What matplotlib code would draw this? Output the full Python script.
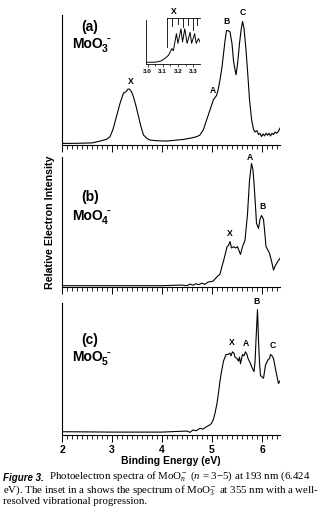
"""
MoOn- photoelectron spectra (n = 3-5) at 193 nm, with 355 nm inset for MoO3-.
Output: out.png
"""
import numpy as np
import matplotlib
matplotlib.use('Agg')
import matplotlib.pyplot as plt
from matplotlib.ticker import MultipleLocator

matplotlib.rcParams['font.family'] = 'Liberation Sans'
matplotlib.rcParams['mathtext.fontset'] = 'custom'
matplotlib.rcParams['mathtext.rm'] = 'Liberation Serif'
matplotlib.rcParams['mathtext.it'] = 'Liberation Serif:italic'
matplotlib.rcParams['mathtext.bf'] = 'Liberation Sans:bold'

# === Data (intensity in arbitrary units, 0-1 of panel height) ===
# (a) MoO3- at 193 nm
e_a = [2.00, 2.30, 2.60, 2.76, 2.90, 2.96, 3.02, 3.09, 3.16, 3.23, 3.28, 3.32, 3.35,
       3.39, 3.43, 3.48, 3.53, 3.58, 3.63, 3.70, 3.76, 3.90, 4.09, 4.25, 4.43, 4.60,
       4.70, 4.76, 4.83, 4.89, 4.96, 5.03, 5.09, 5.12, 5.16, 5.20, 5.23, 5.26, 5.29,
       5.32, 5.36, 5.40, 5.43, 5.46, 5.48, 5.51, 5.55, 5.58, 5.61, 5.64, 5.68, 5.72,
       5.75, 5.79, 5.83, 5.86, 5.90, 5.93, 5.96, 5.99, 6.02, 6.05, 6.08, 6.11, 6.14,
       6.17, 6.20, 6.23, 6.26, 6.29, 6.32, 6.36]
i_a = [0.012, 0.013, 0.016, 0.030, 0.045, 0.064, 0.12, 0.22, 0.32, 0.40, 0.41, 0.43,
       0.43, 0.41, 0.37, 0.30, 0.22, 0.14, 0.077, 0.05, 0.038, 0.033, 0.030, 0.036,
       0.043, 0.055, 0.065, 0.077, 0.12, 0.19, 0.27, 0.35, 0.38, 0.42, 0.50, 0.60,
       0.70, 0.80, 0.88, 0.88, 0.87, 0.78, 0.65, 0.58, 0.54, 0.62, 0.78, 0.88, 0.95,
       0.90, 0.73, 0.52, 0.35, 0.20, 0.12, 0.10, 0.11, 0.08, 0.09, 0.065, 0.085, 0.07,
       0.09, 0.075, 0.09, 0.07, 0.09, 0.08, 0.10, 0.09, 0.10, 0.13]

# (b) MoO4-
e_b = [2.00, 3.00, 4.00, 4.40, 4.50, 4.56, 4.62, 4.68, 4.74, 4.80, 4.86, 4.92, 4.96,
       5.02, 5.08, 5.12, 5.16, 5.20, 5.23, 5.27, 5.30, 5.33, 5.36, 5.39, 5.43, 5.47,
       5.51, 5.54, 5.57, 5.61, 5.66, 5.71, 5.75, 5.79, 5.82, 5.84, 5.87, 5.89, 5.93,
       5.96, 5.99, 6.03, 6.06, 6.08, 6.11, 6.15, 6.19, 6.23, 6.26, 6.29, 6.32, 6.36]
i_b = [0.010, 0.010, 0.010, 0.015, 0.010, 0.022, 0.014, 0.025, 0.018, 0.030, 0.020,
       0.038, 0.040, 0.045, 0.070, 0.085, 0.10, 0.16, 0.20, 0.26, 0.31, 0.32, 0.35,
       0.30, 0.31, 0.30, 0.31, 0.28, 0.25, 0.31, 0.36, 0.56, 0.82, 0.95, 0.90, 0.80,
       0.62, 0.49, 0.45, 0.52, 0.55, 0.52, 0.40, 0.31, 0.29, 0.26, 0.20, 0.13, 0.16,
       0.18, 0.20, 0.22]

# (c) MoO5-
e_c = [2.00, 3.00, 4.00, 4.50, 4.56, 4.62, 4.68, 4.76, 4.82, 4.89, 4.95, 4.99, 5.03,
       5.06, 5.10, 5.13, 5.16, 5.19, 5.23, 5.28, 5.32, 5.36, 5.38, 5.41, 5.44, 5.46,
       5.50, 5.53, 5.55, 5.57, 5.61, 5.64, 5.67, 5.70, 5.72, 5.76, 5.79, 5.84, 5.86,
       5.88, 5.91, 5.93, 5.95, 5.97, 6.00, 6.03, 6.07, 6.12, 6.15, 6.17, 6.20, 6.23,
       6.28, 6.33, 6.36]
i_c = [0.025, 0.022, 0.022, 0.030, 0.020, 0.038, 0.032, 0.050, 0.045, 0.063, 0.075,
       0.088, 0.12, 0.165, 0.24, 0.32, 0.41, 0.48, 0.56, 0.61, 0.61, 0.62, 0.60, 0.63,
       0.62, 0.59, 0.58, 0.56, 0.59, 0.54, 0.61, 0.60, 0.63, 0.61, 0.58, 0.55, 0.52,
       0.48, 0.55, 0.72, 0.95, 0.72, 0.55, 0.45, 0.44, 0.43, 0.53, 0.57, 0.58, 0.61,
       0.60, 0.58, 0.48, 0.39, 0.41]

# inset: MoO3- at 355 nm
e_in = [2.99, 3.00, 3.05, 3.09, 3.116, 3.138, 3.15, 3.16, 3.17, 3.18, 3.19, 3.20,
        3.22, 3.23, 3.245, 3.26, 3.28, 3.29, 3.31, 3.32, 3.335, 3.345]
i_in = [0.04, 0.04, 0.04, 0.07, 0.13, 0.20, 0.28, 0.35, 0.30, 0.50, 0.69, 0.47,
        0.80, 0.50, 0.80, 0.47, 0.72, 0.47, 0.69, 0.47, 0.58, 0.50]
comb_pos = [3.127, 3.163, 3.198, 3.231, 3.263, 3.296, 3.326]
comb_bottom = [0.39, 0.86, 0.90, 0.84, 0.88, 0.78, 0.88]

# panel labels / peak labels
n_oxy = ['3', '4', '5']
tags = ['(a)', '(b)', '(c)']
tag_y = [0.91, 0.69, 0.72]
sp_y = [0.78, 0.55, 0.59]
peaks_a = [('X', 3.37, 0.49), ('A', 5.02, 0.42), ('B', 5.29, 0.95), ('C', 5.62, 1.02)]
peaks_b = [('X', 5.36, 0.41), ('A', 5.76, 1.00), ('B', 6.02, 0.62)]
peaks_c = [('X', 5.40, 0.70), ('A', 5.67, 0.69), ('B', 5.90, 1.01), ('C', 6.21, 0.68)]

# === Figure ===
fig = plt.figure(figsize=(3.32, 5.22), dpi=100)
W, H = 332.0, 522.0

def px_axes(x0, y0, x1, y1):
    return fig.add_axes([x0 / W, 1 - y1 / H, (x1 - x0) / W, (y1 - y0) / H])

ax_a = px_axes(62, 15, 280, 145)
ax_b = px_axes(62, 157, 280, 287)
ax_c = px_axes(62, 303, 280, 435)

for k, (ax, e, i, peaks) in enumerate(zip([ax_a, ax_b, ax_c], [e_a, e_b, e_c], [i_a, i_b, i_c],
                                          [peaks_a, peaks_b, peaks_c])):
    ax.plot(e, i, color='black', lw=0.8)
    ax.set_xlim(2.0, 6.36)
    ax.set_ylim(0, 1)
    for s in ['top', 'right']:
        ax.spines[s].set_visible(False)
    ax.spines['left'].set_linewidth(0.8)
    ax.spines['bottom'].set_linewidth(0.8)
    ax.set_yticks([])
    ax.xaxis.set_major_locator(MultipleLocator(1))
    ax.xaxis.set_minor_locator(MultipleLocator(0.1))
    ax.tick_params(axis='x', which='major', direction='out', length=5, width=0.7)
    ax.tick_params(axis='x', which='minor', direction='out', length=3, width=0.6)
    ax.text(2.56, tag_y[k], tags[k], fontsize=10, fontweight='bold', ha='center', va='center')
    # MoOn- with subscript n and superscript minus placed one after the other
    t_main = ax.text(2.21, sp_y[k], 'MoO', fontsize=10, fontweight='bold', ha='left',
                     va='center')
    t_sub = ax.annotate(n_oxy[k], xy=(1, 0.12), xycoords=t_main, xytext=(-1.0, 0),
                        textcoords='offset points', fontsize=7.5, fontweight='bold',
                        ha='left', va='center')
    ax.annotate('-', xy=(1, 0.82), xycoords=(t_sub, t_main), xytext=(-0.6, 0),
                textcoords='offset points', fontsize=8, fontweight='bold',
                ha='left', va='center')
    for lab, x, y in peaks:
        ax.text(x, y, lab, fontsize=6.2, fontweight='bold', ha='center', va='center',
                clip_on=False)

ax_a.set_xticklabels([])
ax_b.set_xticklabels([])
ax_c.tick_params(axis='x', which='major', labelsize=7.5, pad=2)
for t in ax_c.get_xticklabels():
    t.set_fontweight('bold')
ax_c.set_xlabel('Binding Energy (eV)', fontsize=7.5, fontweight='bold', labelpad=1)

fig.text(50 / W, 1 - 222 / H, 'Relative Electron Intensity', rotation=90,
         fontsize=7.7, fontweight='bold', ha='center', va='center')

# --- inset ---
ax_in = px_axes(146, 20, 200, 64)
ax_in.plot(e_in, i_in, color='black', lw=0.7)
ax_in.set_xlim(2.99, 3.345)
ax_in.set_ylim(0, 1)
for s in ['top', 'right']:
    ax_in.spines[s].set_visible(False)
ax_in.spines['left'].set_linewidth(0.6)
ax_in.spines['bottom'].set_linewidth(0.6)
ax_in.set_yticks([])
ax_in.set_xticks([3.0, 3.1, 3.2, 3.3])
ax_in.set_xticklabels(['3.0', '3.1', '3.2', '3.3'], fontsize=4.5, fontweight='bold')
ax_in.xaxis.set_minor_locator(MultipleLocator(0.05))
ax_in.tick_params(axis='x', which='major', direction='out', length=2.5, width=0.5, pad=1)
ax_in.tick_params(axis='x', which='minor', direction='out', length=1.5, width=0.5)
comb_top = 1.05
ax_in.plot([comb_pos[0], 3.345], [comb_top, comb_top], color='black', lw=0.6, clip_on=False)
for x, yb in zip(comb_pos, comb_bottom):
    ax_in.plot([x, x], [comb_top, yb], color='black', lw=0.6, clip_on=False)
ax_in.text(3.17, 1.19, 'X', fontsize=6.2, fontweight='bold', ha='center', va='center',
           clip_on=False)

# --- caption ---
cap_ax = fig.add_axes([0, 0, 1, 1])
cap_ax.axis('off')
cap_ax.set_xlim(0, W)
cap_ax.set_ylim(H, 0)
serif = dict(family='Liberation Serif', fontsize=7.8)
t1 = cap_ax.text(3, 481, 'Figure 3.', fontsize=7, fontweight='bold', style='italic',
                 va='baseline', ha='left')
cap_ax.annotate(r'  Photoelectron spectra of MoO$_n^-$ ($n$ = 3$-$5) at 193 nm (6.424',
                xy=(1, 0), xycoords=t1, va='bottom', ha='left', **serif)
cap_ax.text(3, 492.5, r'eV). The inset in a shows the spectrum of MoO$_3^-$ at 355 nm with a well-',
            va='baseline', ha='left', **serif)
cap_ax.text(3, 504, 'resolved vibrational progression.', va='baseline', ha='left', **serif)

fig.savefig('out.png', dpi=100, facecolor='white')
plt.close()
